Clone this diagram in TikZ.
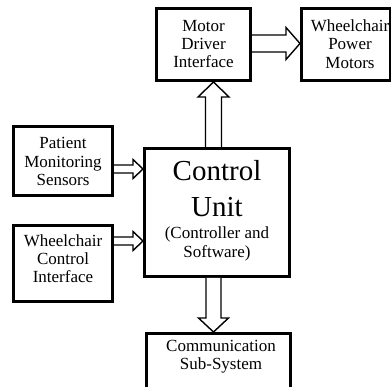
\documentclass[tikz,border=0pt]{standalone}
\usepackage{fontspec}
\setmainfont{Liberation Serif}
\usetikzlibrary{calc}

\tikzset{
  box/.style={draw, line width=3pt, fill=white, inner sep=0pt},
  txt/.style={font=\fontsize{17}{18.2}\selectfont, align=center, inner sep=0pt},
  bigtxt/.style={font=\fontsize{29}{36}\selectfont, align=center, inner sep=0pt},
  blockarrow/.style={draw, line width=1.4pt, fill=white, line join=miter},
}

% hollow block arrows: #1 start, #2 tip, #3 half shaft, #4 half head, #5 head length
\newcommand\rblock[5]{%
  \path[blockarrow] let \p1=(#1), \p2=(#2) in
    (\x1,{\y1+#3}) -- ({\x2-#5},{\y1+#3}) -- ({\x2-#5},{\y1+#4}) -- (\x2,\y1)
    -- ({\x2-#5},{\y1-#4}) -- ({\x2-#5},{\y1-#3}) -- (\x1,{\y1-#3});}
\newcommand\ublock[5]{%
  \path[blockarrow] let \p1=(#1), \p2=(#2) in
    ({\x1-#3},\y1) -- ({\x1-#3},{\y2-#5}) -- ({\x1-#4},{\y2-#5}) -- (\x1,\y2)
    -- ({\x1+#4},{\y2-#5}) -- ({\x1+#3},{\y2-#5}) -- ({\x1+#3},\y1);}
\newcommand\dblock[5]{%
  \path[blockarrow] let \p1=(#1), \p2=(#2) in
    ({\x1-#3},\y1) -- ({\x1-#3},{\y2+#5}) -- ({\x1-#4},{\y2+#5}) -- (\x1,\y2)
    -- ({\x1+#4},{\y2+#5}) -- ({\x1+#3},{\y2+#5}) -- ({\x1+#3},\y1);}

\begin{document}
\begin{tikzpicture}[x=1pt, y=-1pt]
\useasboundingbox (0,0) rectangle (391,387);
\clip (0,0) rectangle (391,387);

% blocks
\node[box, minimum width=94, minimum height=72] (mdi) at (203.5,44.5) {};
\node[box, minimum width=89, minimum height=72] (pwr) at (346,44.5) {};
\node[box, minimum width=99, minimum height=69] (pms) at (63,161) {};
\node[box, minimum width=99, minimum height=76] (wci) at (63,263.5) {};
\node[box, minimum width=145, minimum height=128] (cu) at (217,212.5) {};
\node[box, minimum width=144, minimum height=90] (com) at (218.5,378.5) {};

% block texts
\node[txt] (mdiT) at (203.5,44) {Motor\\Driver\\Interface};
\node[txt] (pwrT) at (350,44) {Wheelchair\\Power\\Motors};
\node[txt] (pmsT) at (63,161.5) {Patient\\Monitoring\\Sensors};
\node[txt] (wciT) at (63,258.5) {Wheelchair\\Control\\Interface};
\node[bigtxt] (cuT) at (217,188.5) {Control\\Unit};
\node[txt] (cuS) at (217,244) {(Controller and\\Software)};
\node[txt] (comT) at (221,357) {Communication\\Sub-System};

% connector levels
\coordinate (rowM) at (0,43.5);
\coordinate (rowP) at (0,169);
\coordinate (rowW) at (0,241);
\coordinate (colC) at (213.5,0);

% connectors
\rblock{mdi.east |- rowM}{pwr.west |- rowM}{8.5}{16}{14}
\rblock{pms.east |- rowP}{cu.west |- rowP}{4}{9.5}{10}
\rblock{wci.east |- rowW}{cu.west |- rowW}{4}{9.5}{10}
\ublock{colC |- cu.north}{colC |- mdi.south}{8}{15.5}{15}
\dblock{colC |- cu.south}{colC |- com.north}{7.5}{15}{14}
\end{tikzpicture}
\end{document}
